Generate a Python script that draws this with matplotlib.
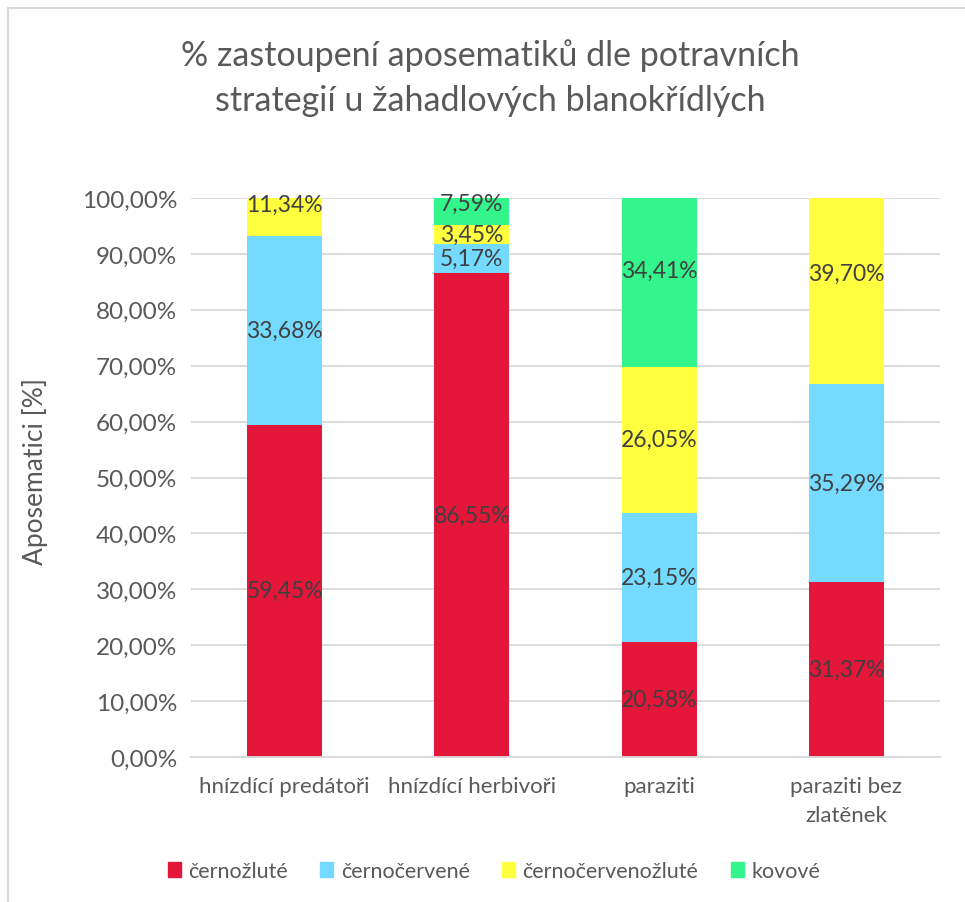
import matplotlib
matplotlib.use("Agg")
import matplotlib.pyplot as plt
from matplotlib.lines import Line2D
import numpy as np

plt.rcParams['font.family'] = ['Lato', 'DejaVu Sans']

categories = ["hnízdící predátoři", "hnízdící herbivoři", "paraziti", "paraziti bez\nzlatěnek"]
series_names = ["černožluté", "černočervené", "černočervenožluté", "kovové"]
cernozlute = [59.45, 86.55, 20.58, 31.37]
cernocervene = [33.68, 5.17, 23.15, 35.29]
cernocervenozlute = [11.34, 3.45, 26.05, 39.70]
kovove = [0.0, 7.59, 34.41, 0.0]
colors = ["#E4173B", "#75DAFF", "#FFFF3F", "#33F58C"]

series = [cernozlute, cernocervene, cernocervenozlute, kovove]

fig = plt.figure(figsize=(9.65, 9.03), dpi=100)
ax = fig.add_axes([191/965, 1 - 758/903, (940-191)/965, (758-199)/903])

x = np.arange(len(categories))
bottom = np.zeros(len(categories))
for vals, name, col in zip(series, series_names, colors):
    v = np.array(vals) / 100.0
    ax.bar(x, v, width=0.4, bottom=bottom, color=col, label=name, zorder=2)
    for i, val in enumerate(vals):
        if val > 0:
            ax.text(x[i], bottom[i] + v[i] / 2, f"{val:.2f}%".replace(".", ","),
                    ha="center", va="center", fontsize=16.5, color="#404040", zorder=3)
    bottom += v

ax.set_ylim(0, 1.0)
ax.set_xlim(-0.5, len(categories) - 0.5)
yt = np.arange(0, 1.01, 0.1)
ax.set_yticks(yt)
ax.set_yticklabels([f"{t*100:.2f}%".replace(".", ",") for t in yt], fontsize=17.5, color="#595959")
ax.set_xticks(x)
ax.set_xticklabels(categories, fontsize=16, color="#595959", linespacing=1.55)
ax.tick_params(axis="both", length=0)
ax.tick_params(axis="y", pad=10)
ax.tick_params(axis="x", pad=14)
ax.grid(axis="y", color="#D9D9D9", linewidth=1.3, zorder=0)
ax.set_axisbelow(True)
for s in ["top", "right", "left"]:
    ax.spines[s].set_visible(False)
ax.spines["bottom"].set_color("#D9D9D9")
ax.spines["bottom"].set_linewidth(1.3)

fig.text(35/965, 1 - 472/903, "Aposematici [%]", rotation=90, ha="center", va="center",
         fontsize=19, color="#595959")

fig.text(490/965, 1 - 78/903, "% zastoupení aposematiků dle potravních\nstrategií u žahadlových blanokřídlých",
         ha="center", va="center", fontsize=24.5, color="#595959", linespacing=1.5)

handles = [plt.Rectangle((0, 0), 1, 1, color=c) for c in colors]
fig.legend(handles, series_names, loc="center", bbox_to_anchor=(494/965, 1 - 872/903),
           ncol=4, frameon=False, fontsize=15.5, handlelength=0.6, handleheight=0.7,
           handletextpad=0.35, columnspacing=1.5, labelcolor="#595959")

# chart frame border (left and top)
fig.add_artist(Line2D([8/965, 8/965], [0, 1 - 9/903], transform=fig.transFigure, color="#D9D9D9", lw=1.5))
fig.add_artist(Line2D([8/965, 1], [1 - 9/903, 1 - 9/903], transform=fig.transFigure, color="#D9D9D9", lw=1.5))

fig.savefig("out.png", dpi=100)
